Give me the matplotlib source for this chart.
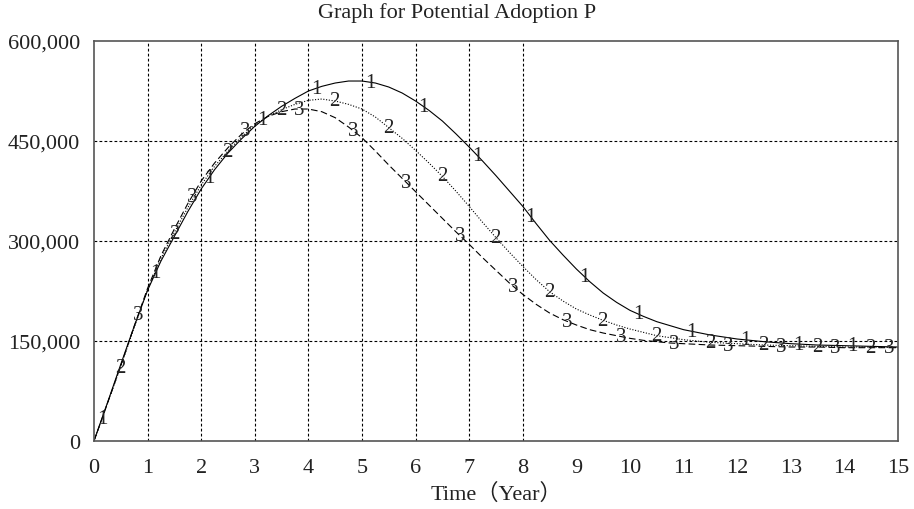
import numpy as np
import matplotlib
matplotlib.use('Agg')
import matplotlib.pyplot as plt

plt.rcParams['font.family'] = ['Liberation Serif', 'Noto Sans CJK SC']

# time axis (years, step 0.25) and the three simulated runs (thousands)
time = np.arange(0, 15.001, 0.25)
run1 = [0, 57, 115, 172, 226, 270, 307, 344, 378, 407, 432, 453, 472, 488, 502, 514,
        525, 532, 537, 540, 540, 537, 531, 522, 510, 496, 480, 461, 441, 420, 398, 375,
        352, 326, 301, 279, 258, 239, 222, 208, 196, 187, 179, 173, 167, 163, 159, 156,
        153, 151, 149, 147.5, 146, 145, 144, 143.5, 143, 142.5, 142, 141.5, 141]
run2 = [0, 56, 112, 170, 227, 274, 313, 350, 384, 412, 435, 456, 474, 487, 497, 505,
        511, 513, 510, 505, 498, 486, 470, 454, 436, 417, 397, 375, 352, 328, 305, 283,
        262, 242, 224, 210, 198, 189, 181, 174, 168, 163, 158, 155, 152, 150, 148, 147,
        146, 145, 144, 143.5, 143, 142.5, 142, 141.5, 141, 141, 141, 140.5, 140]
run3 = [0, 56, 113, 172, 229, 278, 318, 356, 390, 417, 440, 460, 476, 487, 494, 498,
        498, 494, 485, 471, 455, 435, 414, 394, 374, 354, 334, 314, 295, 275, 256, 237,
        220, 205, 192, 182, 174, 167, 162, 158, 154, 151, 149, 147, 146, 145, 144, 143.5,
        143, 142.5, 142, 141.5, 141, 141, 141, 140.5, 140, 140, 140, 140, 140]
runs = [np.array(r) * 1000 for r in (run1, run2, run3)]
run_names = ['1', '2', '3']
label_start = [0.15, 0.49, 0.83]   # first year a run number is printed

x_ticks = list(range(0, 16))
y_ticks = [0, 150000, 300000, 450000, 600000]
y_ticklabels = ['0', '150,000', '300,000', '450,000', '600,000']
v_grid = [1, 2, 3, 4, 5, 6, 7, 8]
h_grid = [150000, 300000, 450000]

fig = plt.figure(figsize=(9.14, 5.10), dpi=100)
ax = fig.add_axes([0.1028, 0.1333, 0.8797, 0.7843])

for g in v_grid:
    ax.axvline(g, color='black', lw=0.8, ls=(0, (2.5, 2)), zorder=1)
for g in h_grid:
    ax.axhline(g, color='black', lw=0.8, ls=(0, (2.5, 2)), zorder=1)

styles = ['-', (0, (1, 1.5)), (0, (6, 3))]
for vals, name, st, t0 in zip(runs, run_names, styles, label_start):
    ax.plot(time, vals, color='black', lw=0.8, ls=st, zorder=2)
    marks = np.arange(t0, 15, 1.0)
    for tm in marks:
        ax.text(tm, np.interp(tm, time, vals), name, fontsize=15,
                ha='center', va='center', color='#222222', zorder=3)

ax.set_xlim(0, 15)
ax.set_ylim(0, 600000)
ax.set_xticks(x_ticks)
ax.set_yticks(y_ticks)
ax.set_yticklabels(y_ticklabels)
ax.tick_params(length=0, labelsize=16, colors='#222222')
ax.tick_params(axis='x', pad=12)
ax.tick_params(axis='y', pad=10)
for sp in ax.spines.values():
    sp.set_color('#555555')
    sp.set_linewidth(1.2)

ax.set_xlabel('Time（Year）', fontsize=16, color='#222222', labelpad=4)
fig.text(0.5, 0.975, 'Graph for Potential Adoption P', ha='center', va='center',
         fontsize=16, color='#222222')

fig.savefig('out.png', dpi=100)
